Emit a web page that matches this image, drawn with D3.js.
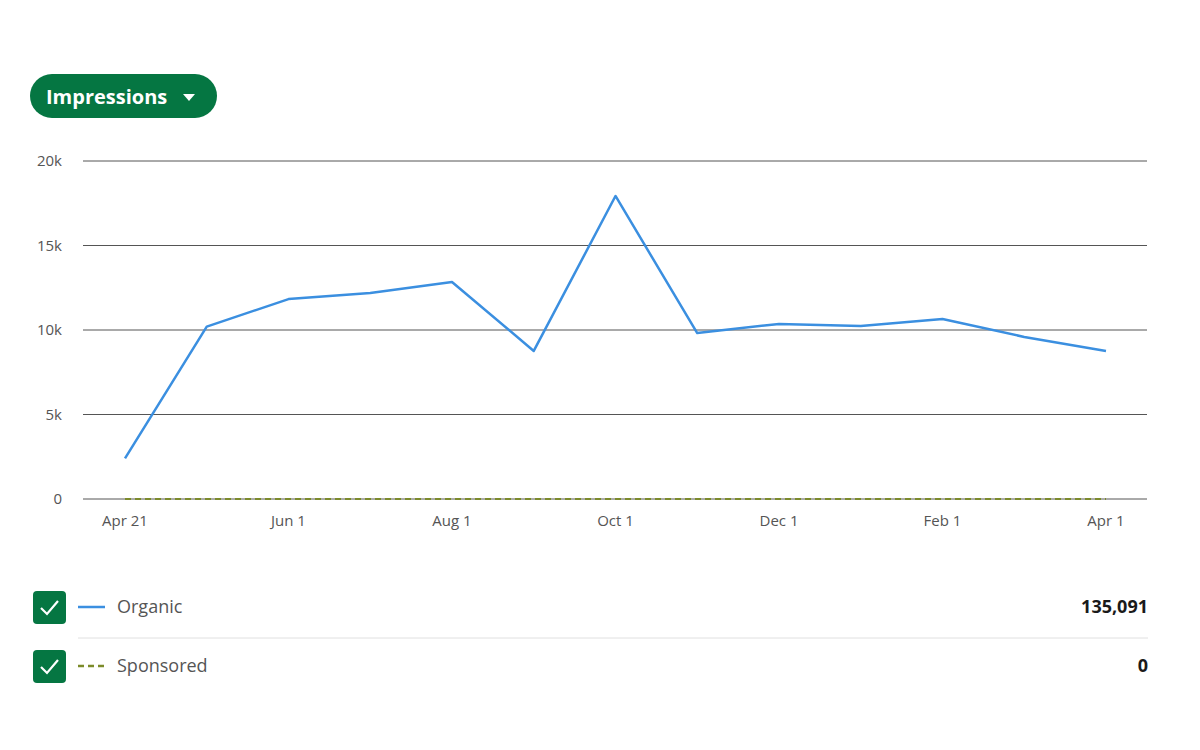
<!DOCTYPE html>
<html>
<head>
<meta charset="utf-8">
<script src="https://cdn.jsdelivr.net/npm/d3@7"></script>
<style>
  body { margin: 0; background: #fff; font-family: "Open Sans", "Liberation Sans", sans-serif; }
</style>
</head>
<body>
<svg width="1200" height="750"></svg>
<script>
// data
const periods = ['Apr 21', 'May 1', 'Jun 1', 'Jul 1', 'Aug 1', 'Sep 1', 'Oct 1', 'Nov 1', 'Dec 1', 'Jan 1', 'Feb 1', 'Mar 1', 'Apr 1'];
const organic = [2400, 10200, 11830, 12190, 12840, 8760, 17930, 9820, 10360, 10240, 10650, 9590, 8760];
const sponsored = [0, 0, 0, 0, 0, 0, 0, 0, 0, 0, 0, 0, 0];
const yTicks = [0, 5000, 10000, 15000, 20000];
const shownLabels = ['Apr 21', 'Jun 1', 'Aug 1', 'Oct 1', 'Dec 1', 'Feb 1', 'Apr 1'];
const legend = [
  { name: 'Organic', total: '135,091', color: '#3b8fe0', dash: null },
  { name: 'Sponsored', total: '0', color: '#7c8b2a', dash: '6,4' }
];

const svg = d3.select('svg');
const green = '#057642';

// dropdown pill
svg.append('rect')
  .attr('x', 30).attr('y', 74).attr('width', 187).attr('height', 44)
  .attr('rx', 22).attr('fill', green);
svg.append('text')
  .attr('x', 46).attr('y', 104)
  .attr('fill', '#fff').attr('font-size', '20px').attr('font-weight', 'bold')
  .text('Impressions');
svg.append('path')
  .attr('d', 'M183,94 L195,94 L189,101 Z').attr('fill', '#fff');

const x = d3.scalePoint().domain(periods).range([125, 1106]);
const y = d3.scaleLinear().domain([0, 20000]).range([499, 161]);

// grid
svg.append('g')
  .selectAll('line')
  .data(yTicks)
  .enter().append('line')
  .attr('x1', 83).attr('x2', 1147)
  .attr('y1', d => y(d)).attr('y2', d => y(d))
  .attr('stroke', '#555').attr('stroke-width', 1);

svg.append('g')
  .selectAll('text')
  .data(yTicks)
  .enter().append('text')
  .attr('x', 62).attr('y', d => y(d) + 5)
  .attr('text-anchor', 'end')
  .attr('fill', '#555').attr('font-size', '15px')
  .text(d => d === 0 ? '0' : d / 1000 + 'k');

svg.append('g')
  .selectAll('text')
  .data(shownLabels)
  .enter().append('text')
  .attr('x', d => x(d)).attr('y', 526)
  .attr('text-anchor', 'middle')
  .attr('fill', '#555').attr('font-size', '15px')
  .text(d => d);

const line = d3.line().x((d, i) => x(periods[i])).y(d => y(d));

svg.append('path')
  .datum(sponsored)
  .attr('d', line)
  .attr('fill', 'none').attr('stroke', legend[1].color)
  .attr('stroke-width', 2).attr('stroke-dasharray', '6,4');

svg.append('path')
  .datum(organic)
  .attr('d', line)
  .attr('fill', 'none').attr('stroke', legend[0].color)
  .attr('stroke-width', 2.5).attr('stroke-linejoin', 'round');

// legend rows
const rows = svg.selectAll('.row')
  .data(legend)
  .enter().append('g')
  .attr('transform', (d, i) => `translate(0, ${591 + i * 59})`);

rows.append('rect')
  .attr('x', 33).attr('y', 0).attr('width', 33).attr('height', 33)
  .attr('rx', 4).attr('fill', green);
rows.append('path')
  .attr('d', 'M41,17 L47,23 L58,10')
  .attr('fill', 'none').attr('stroke', '#fff').attr('stroke-width', 2.2);
rows.append('line')
  .attr('x1', 78).attr('x2', 105).attr('y1', 16).attr('y2', 16)
  .attr('stroke', d => d.color).attr('stroke-width', 2.5)
  .attr('stroke-dasharray', d => d.dash);
rows.append('text')
  .attr('x', 117).attr('y', 22)
  .attr('fill', '#555').attr('font-size', '18px')
  .text(d => d.name);
rows.append('text')
  .attr('x', 1148).attr('y', 22)
  .attr('text-anchor', 'end')
  .attr('fill', '#1a1a1a').attr('font-size', '18px').attr('font-weight', 'bold')
  .text(d => d.total);

svg.append('line')
  .attr('x1', 78).attr('x2', 1148).attr('y1', 638).attr('y2', 638)
  .attr('stroke', '#e0e0e0');
</script>
</body>
</html>
